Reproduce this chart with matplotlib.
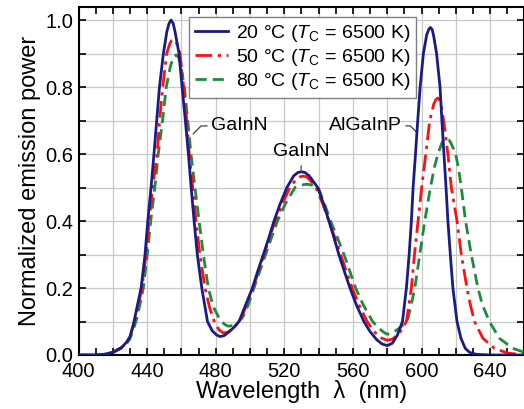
import matplotlib
matplotlib.use("Agg")
import matplotlib.pyplot as plt
from matplotlib.ticker import MultipleLocator, FuncFormatter

plt.rcParams['font.family'] = ['Liberation Sans', 'DejaVu Sans']
plt.rcParams['mathtext.fontset'] = 'custom'
plt.rcParams['mathtext.rm'] = 'Liberation Sans'
plt.rcParams['mathtext.it'] = 'Liberation Sans:italic'

# ---- data ----
wl_20 = [400, 410, 415, 420, 425, 428, 430, 432, 434, 436.5, 438.8, 440.4, 442.3, 444, 445.6, 447.2,
         449.5, 451.5, 452.8, 454, 455.2, 456.3, 458.6, 460.4, 462.3, 464.1, 465.7, 467.4, 469.3, 471.9,
         475.2, 478, 480.5, 482.5, 485, 488, 490.5, 493.6, 497.5, 501.4, 504.5, 507.8, 511, 514, 517.5,
         521.5, 525.5, 528, 530, 532, 534.5, 539.5, 543, 546, 549, 551.8, 555, 558.3, 562, 566.4, 570,
         574, 577, 580, 583, 586, 588.9, 591.2, 592.8, 594.1, 595.1, 596.5, 597.8, 599.2, 601.1, 603,
         604.2, 605.2, 606.2, 607, 608.8, 610.8, 611.9, 613.1, 614.3, 615.4, 616.8, 618.3, 620.7, 623,
         625.5, 628, 632, 640, 660]
p_20 = [0.0, 0.0, 0.002, 0.008, 0.022, 0.038, 0.055, 0.09, 0.14, 0.2, 0.3, 0.4, 0.5, 0.6, 0.7, 0.8,
        0.9, 0.965, 0.99, 1.0, 0.99, 0.965, 0.9, 0.8, 0.7, 0.6, 0.5, 0.4, 0.3, 0.2,
        0.1, 0.072, 0.06, 0.055, 0.058, 0.07, 0.082, 0.1, 0.15, 0.2, 0.25, 0.3, 0.35, 0.4, 0.45,
        0.5, 0.535, 0.545, 0.547, 0.545, 0.535, 0.5, 0.45, 0.4, 0.35, 0.3, 0.25, 0.2, 0.15, 0.1, 0.07,
        0.045, 0.033, 0.028, 0.035, 0.06, 0.1, 0.2, 0.3, 0.4, 0.5, 0.6, 0.7, 0.8, 0.9, 0.955,
        0.972, 0.978, 0.972, 0.955, 0.9, 0.8, 0.7, 0.6, 0.5, 0.4, 0.3, 0.2, 0.1, 0.05,
        0.02, 0.008, 0.002, 0.0, 0.0]

wl_50 = [400, 410, 415, 420, 425, 428, 430, 432.5, 435, 437, 439.4, 441.2, 443.2, 445.8, 447.3, 449.1,
         451.4, 453.3, 454.3, 455.3, 456.3, 457.3, 459.2, 461.3, 463.1, 464.6, 466.6, 468.5, 470.8, 473.8,
         476.5, 479.5, 482, 484.4, 487, 490, 494.2, 498, 501.7, 505, 508.2, 511.4, 514.6, 518.8, 523.2,
         527, 529, 531, 533, 535, 538.5, 542.5, 546, 549.5, 552.8, 556.2, 559.6, 563.5, 568.3, 572, 576,
         580, 583, 587, 591.2, 594.1, 595.9, 598, 600.1, 602.5, 604.8, 607.2, 608.4, 609.6, 610.6, 611.5,
         612.9, 615.4, 617.4, 620.7, 623.2, 626.5, 628.5, 630.9, 635.8, 642.5, 650, 660]
p_50 = [0.0, 0.0, 0.002, 0.008, 0.022, 0.036, 0.052, 0.1, 0.15, 0.2, 0.3, 0.4, 0.5, 0.6, 0.7, 0.8,
        0.9, 0.93, 0.939, 0.942, 0.939, 0.93, 0.9, 0.8, 0.7, 0.6, 0.5, 0.4, 0.3, 0.2,
        0.14, 0.095, 0.075, 0.066, 0.068, 0.08, 0.1, 0.15, 0.2, 0.25, 0.3, 0.35, 0.4, 0.45, 0.5,
        0.525, 0.532, 0.534, 0.532, 0.522, 0.5, 0.45, 0.4, 0.35, 0.3, 0.25, 0.2, 0.15, 0.1, 0.072, 0.052,
        0.044, 0.047, 0.065, 0.1, 0.2, 0.3, 0.4, 0.5, 0.6, 0.7, 0.75, 0.763, 0.767, 0.762, 0.745,
        0.7, 0.6, 0.5, 0.4, 0.3, 0.2, 0.15, 0.1, 0.05, 0.02, 0.006, 0.0]

wl_80 = [400, 410, 415, 420, 425, 428, 430, 433.5, 435.8, 437.8, 440.1, 442.1, 444.5, 446.5, 449, 451.2,
         453.5, 455.2, 456.9, 458.2, 459.5, 461.7, 463.7, 465.6, 467.9, 470.3, 472.8, 475.7, 478.6, 482,
         485, 487.3, 490, 493, 496, 499, 502.3, 505.7, 509.1, 512.5, 516, 520.5, 526.2, 529.5, 533, 536.5,
         539.8, 543.5, 547, 551, 554.8, 558.2, 561.6, 566, 571.5, 575, 578, 580, 583, 587, 591.6, 594,
         596.1, 599, 601.9, 605.2, 607.5, 609.6, 612, 613.3, 614.5, 615.8, 617, 619.9, 621.5, 623.2, 625.7,
         629, 632.9, 635.5, 639.6, 645.4, 653.2, 660]
p_80 = [0.0, 0.0, 0.002, 0.007, 0.02, 0.034, 0.048, 0.1, 0.15, 0.2, 0.3, 0.4, 0.5, 0.6, 0.7, 0.8,
        0.86, 0.888, 0.896, 0.89, 0.87, 0.8, 0.7, 0.6, 0.5, 0.4, 0.3, 0.2, 0.144, 0.11,
        0.092, 0.086, 0.088, 0.098, 0.115, 0.15, 0.2, 0.25, 0.3, 0.35, 0.4, 0.45, 0.5, 0.507, 0.51, 0.507,
        0.5, 0.45, 0.4, 0.35, 0.3, 0.25, 0.2, 0.15, 0.1, 0.08, 0.068, 0.062, 0.065, 0.08, 0.1, 0.15,
        0.2, 0.3, 0.4, 0.5, 0.56, 0.6, 0.635, 0.643, 0.645, 0.643, 0.635, 0.6, 0.56, 0.5, 0.4,
        0.3, 0.2, 0.15, 0.1, 0.05, 0.02, 0.008]

labels = ["20 °C ($T_{\\mathrm{C}}$ = 6500 K)",
          "50 °C ($T_{\\mathrm{C}}$ = 6500 K)",
          "80 °C ($T_{\\mathrm{C}}$ = 6500 K)"]
colors = ['#1b1b85', '#ff1010', '#1f8a3a']

fig = plt.figure(figsize=(5.24, 4.09), dpi=100)
ax = fig.add_axes([78.5 / 524, 1 - 355 / 409, (524.4 - 78.5) / 524, 348 / 409])

ax.plot(wl_20, p_20, color=colors[0], lw=2.0, ls='-', label=labels[0], zorder=5)
ax.plot(wl_50, p_50, color=colors[1], lw=2.0, dashes=(6, 2, 1.2, 2), label=labels[1], zorder=4)
ax.plot(wl_80, p_80, color=colors[2], lw=2.0, dashes=(4, 2.2), label=labels[2], zorder=3)

ax.set_xlim(400, 660)
ax.set_ylim(0, 1.039)

ax.xaxis.set_major_locator(MultipleLocator(20))
ax.xaxis.set_minor_locator(MultipleLocator(10))
ax.xaxis.set_major_formatter(FuncFormatter(lambda v, p: f"{int(round(v))}" if int(round(v)) % 40 == 0 else ""))
ax.yaxis.set_major_locator(MultipleLocator(0.2))
ax.yaxis.set_minor_locator(MultipleLocator(0.1))
ax.yaxis.set_major_formatter(FuncFormatter(lambda v, p: f"{v:.1f}"))

ax.tick_params(which='both', direction='in', top=True, right=True, length=5, width=1.2,
               labelsize=14.5)
ax.tick_params(axis='x', pad=5)
ax.tick_params(axis='y', pad=4)
ax.grid(which='major', axis='x', color='#c8c8c8', lw=0.9)
ax.grid(which='both', axis='y', color='#c8c8c8', lw=0.9)
ax.set_axisbelow(True)
for s in ax.spines.values():
    s.set_linewidth(1.5)

ax.set_xlabel("Wavelength  λ  (nm)", fontsize=17, labelpad=-1)
ax.set_ylabel("Normalized emission power", fontsize=17, labelpad=3)

leg = ax.legend(loc='upper left', bbox_to_anchor=(0.248, 0.971), borderaxespad=0,
                fontsize=14, handlelength=1.7, handletextpad=0.4, labelspacing=0.15,
                borderpad=0.3, fancybox=False, framealpha=1, edgecolor='#808080')
leg.get_frame().set_linewidth(1.0)

ann = dict(fontsize=14, color='black')
ax.annotate("GaInN", xy=(466.8, 0.66), xytext=(477.5, 0.684), va='center', ha='left',
            arrowprops=dict(arrowstyle='-', color='#404040', lw=0.9, shrinkA=1, shrinkB=0,
                            connectionstyle='angle,angleA=0,angleB=45,rad=0'), **ann)
ax.annotate("GaInN", xy=(529.8, 0.553), xytext=(529.8, 0.607), va='center', ha='center',
            arrowprops=dict(arrowstyle='-', color='#404040', lw=0.9, shrinkA=2, shrinkB=0), **ann)
ax.annotate("AlGaInP", xy=(596.8, 0.667), xytext=(588.5, 0.684), va='center', ha='right',
            arrowprops=dict(arrowstyle='-', color='#404040', lw=0.9, shrinkA=1, shrinkB=0,
                            connectionstyle='angle,angleA=0,angleB=-45,rad=0'), **ann)

fig.savefig("out.png", dpi=100)
